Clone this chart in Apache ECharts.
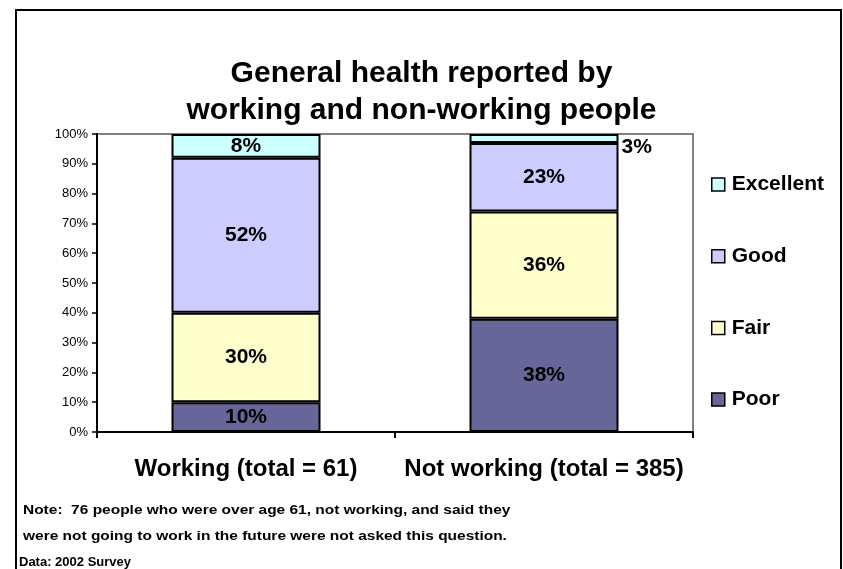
<!DOCTYPE html>
<html>
<head>
<meta charset="utf-8">
<script src="https://cdn.jsdelivr.net/npm/echarts@6/dist/echarts.min.js"></script>
<style>
  html, body { margin: 0; padding: 0; background: #fff; }
  #chart { width: 843px; height: 569px; }
</style>
</head>
<body>
<div id="chart"></div>
<script>
// Groups compared
const categories = ['Working (total = 61)', 'Not working (total = 385)'];

// Share of each self-reported health rating, in percent
const poor = [10, 38];
const fair = [30, 36];
const good = [52, 23];
const excellent = [8, 3];

// Y axis ticks
const yMin = 0;
const yMax = 100;
const yStep = 10;

const seriesNames = ['Poor', 'Fair', 'Good', 'Excellent'];
const seriesValues = [poor, fair, good, excellent];
const seriesColors = ['#666699', '#FFFFCC', '#CCCCFF', '#CCFFFF'];

const FONT = 'Arial, "Liberation Sans", sans-serif';

const chart = echarts.init(document.getElementById('chart'), null, { renderer: 'canvas' });

const labelBase = {
  show: true,
  position: 'inside',
  formatter: p => p.value + '%',
  color: '#000',
  fontFamily: FONT,
  fontWeight: 'bold',
  fontSize: 21
};

const series = seriesNames.map((name, i) => ({
  name: name,
  type: 'bar',
  stack: 'health',
  barWidth: '50%',
  itemStyle: { color: seriesColors[i], borderColor: '#000', borderWidth: 2 },
  label: labelBase,
  data: seriesValues[i].map((v, j) => {
    // the thin top slice of the second bar carries its label beside the bar
    if (name === 'Excellent' && v < 5) {
      return { value: v, label: { position: 'right', distance: 3, offset: [0, 9] } };
    }
    return v;
  })
}));

chart.setOption({
  animation: false,
  backgroundColor: '#fff',
  title: {
    text: 'General health reported by\nworking and non-working people',
    left: 'center',
    top: 50,
    textStyle: {
      fontFamily: FONT,
      fontWeight: 'bold',
      fontSize: 30,
      lineHeight: 37,
      color: '#000'
    }
  },
  grid: {
    left: 97,
    right: 150,
    top: 134,
    bottom: 137,
    show: true,
    borderColor: '#808080',
    borderWidth: 2,
    containLabel: false
  },
  legend: {
    orient: 'vertical',
    left: 706,
    top: 169,
    itemWidth: 13,
    itemHeight: 13,
    itemGap: 50.7,
    data: ['Excellent', 'Good', 'Fair', 'Poor'],
    icon: 'rect',
    itemStyle: { borderColor: '#000', borderWidth: 1.5 },
    textStyle: {
      fontFamily: FONT,
      fontWeight: 'bold',
      fontSize: 21,
      lineHeight: 20,
      color: '#000',
      padding: [0, 0, 0, 2]
    },
    selectedMode: false
  },
  xAxis: {
    type: 'category',
    data: categories,
    axisLine: { lineStyle: { color: '#000', width: 2 } },
    axisTick: { show: true, length: 6, lineStyle: { color: '#000', width: 2 } },
    axisLabel: {
      interval: 0,
      color: '#000',
      fontFamily: FONT,
      fontWeight: 'bold',
      fontSize: 24,
      lineHeight: 24,
      margin: 25
    }
  },
  yAxis: {
    type: 'value',
    min: yMin,
    max: yMax,
    interval: yStep,
    axisLine: { show: true, lineStyle: { color: '#000', width: 2 } },
    axisTick: { show: true, length: 5, lineStyle: { color: '#000', width: 1.5 } },
    splitLine: { show: false },
    axisLabel: {
      formatter: '{value}%',
      color: '#000',
      fontFamily: FONT,
      fontSize: 13,
      margin: 9
    }
  },
  graphic: [
    {
      type: 'rect',
      shape: { x: 16, y: 10, width: 825, height: 620 },
      style: { fill: 'none', stroke: '#000', lineWidth: 2 },
      silent: true,
      z: 100
    },
    {
      type: 'text',
      x: 23,
      y: 497,
      scaleX: 1.19,
      style: {
        text: 'Note:  76 people who were over age 61, not working, and said they\nwere not going to work in the future were not asked this question.',
        fontFamily: FONT,
        fontWeight: 'bold',
        fontSize: 13,
        lineHeight: 26,
        fill: '#000'
      },
      silent: true
    },
    {
      type: 'text',
      x: 19,
      y: 556,
      style: {
        text: 'Data: 2002 Survey',
        fontFamily: FONT,
        fontWeight: 'bold',
        fontSize: 13,
        fill: '#000'
      },
      silent: true
    }
  ],
  series: series
});
</script>
</body>
</html>
